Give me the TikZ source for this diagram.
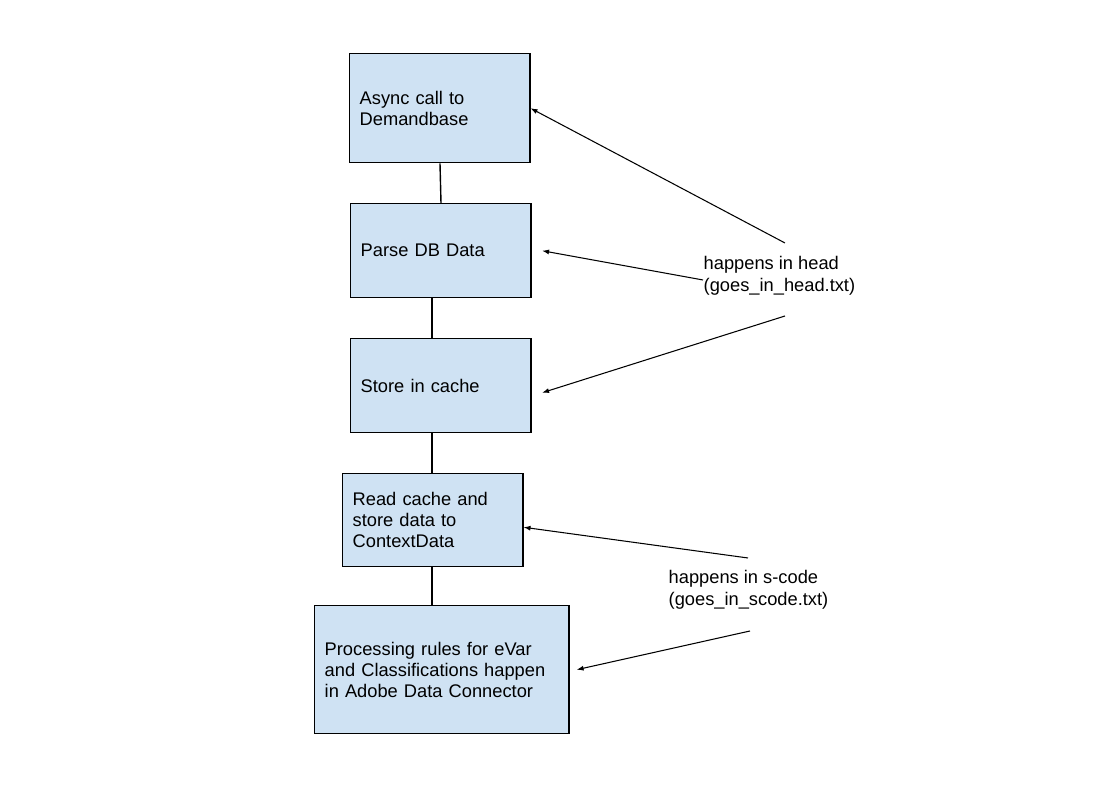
\documentclass[tikz,border=0pt]{standalone}
\usepackage{fontspec}
\setmainfont{Liberation Sans}
\usetikzlibrary{arrows.meta}
\tikzset{
  stepbox/.style={draw, fill=blue!8!cyan!10!white, fill={rgb,255:red,207;green,226;blue,243},
    anchor=north west, align=left, inner xsep=0.1cm, line width=0.4pt,
    font=\fontsize{5.2}{6}\selectfont},
  note/.style={anchor=north west, align=left, inner sep=0pt, font=\fontsize{5.2}{6}\selectfont},
  pointer/.style={-{Latex[length=0.07cm,width=0.05cm]}, line width=0.3pt}
}
\begin{document}
\begin{tikzpicture}[x=0.01cm,y=-0.01cm]
	\useasboundingbox (0,0) rectangle (1117,789);
	\node[stepbox, text width=1.6cm, minimum width=1.8cm, minimum height=1.09cm] (async) at (349,53) {Async call to\\Demandbase};
	\node[stepbox, text width=1.6cm, minimum width=1.8cm, minimum height=0.94cm] (parse) at (350,203) {Parse DB Data};
	\node[stepbox, text width=1.6cm, minimum width=1.8cm, minimum height=0.94cm] (store) at (350,338) {Store in cache};
	\node[stepbox, text width=1.6cm, minimum width=1.8cm, minimum height=0.93cm] (read) at (342,473) {Read cache and\\store data to\\ContextData};
	\node[stepbox, text width=2.34cm, minimum width=2.54cm, minimum height=1.28cm] (rules) at (314,605) {Processing rules for eVar\\and Classifications happen\\in Adobe Data Connector};
		\node[note] (head) at (703,256) {happens in head\\(goes\_in\_head.txt)};
		\node[note] (scode) at (668,570) {happens in s-code\\(goes\_in\_scode.txt)};
			\coordinate (h1) at (785,243);
			\coordinate (h2) at (703,280);
			\coordinate (h3) at (785,316);
			\coordinate (s1) at (748,558);
			\coordinate (s2) at (750,631);
	\draw (async.south -| 440,0) -- (parse.north -| 441,0);
	\draw (parse.south -| 432,0) -- (store.north -| 432,0);
	\draw (store.south -| 432,0) -- (read.north -| 432,0);
	\draw (read.south -| 432,0) -- (rules.north -| 432,0);
	\draw[pointer] (h1) to (async.east);
	\draw[pointer] (h2) to ([xshift=3]parse.east);
	\draw[pointer] (h3) to ([xshift=3,yshift=-2]store.east);
	\draw[pointer] (s1) to ([yshift=-2]read.east);
	\draw[pointer] (s2) to ([xshift=2]rules.east);
\end{tikzpicture}
\end{document}
